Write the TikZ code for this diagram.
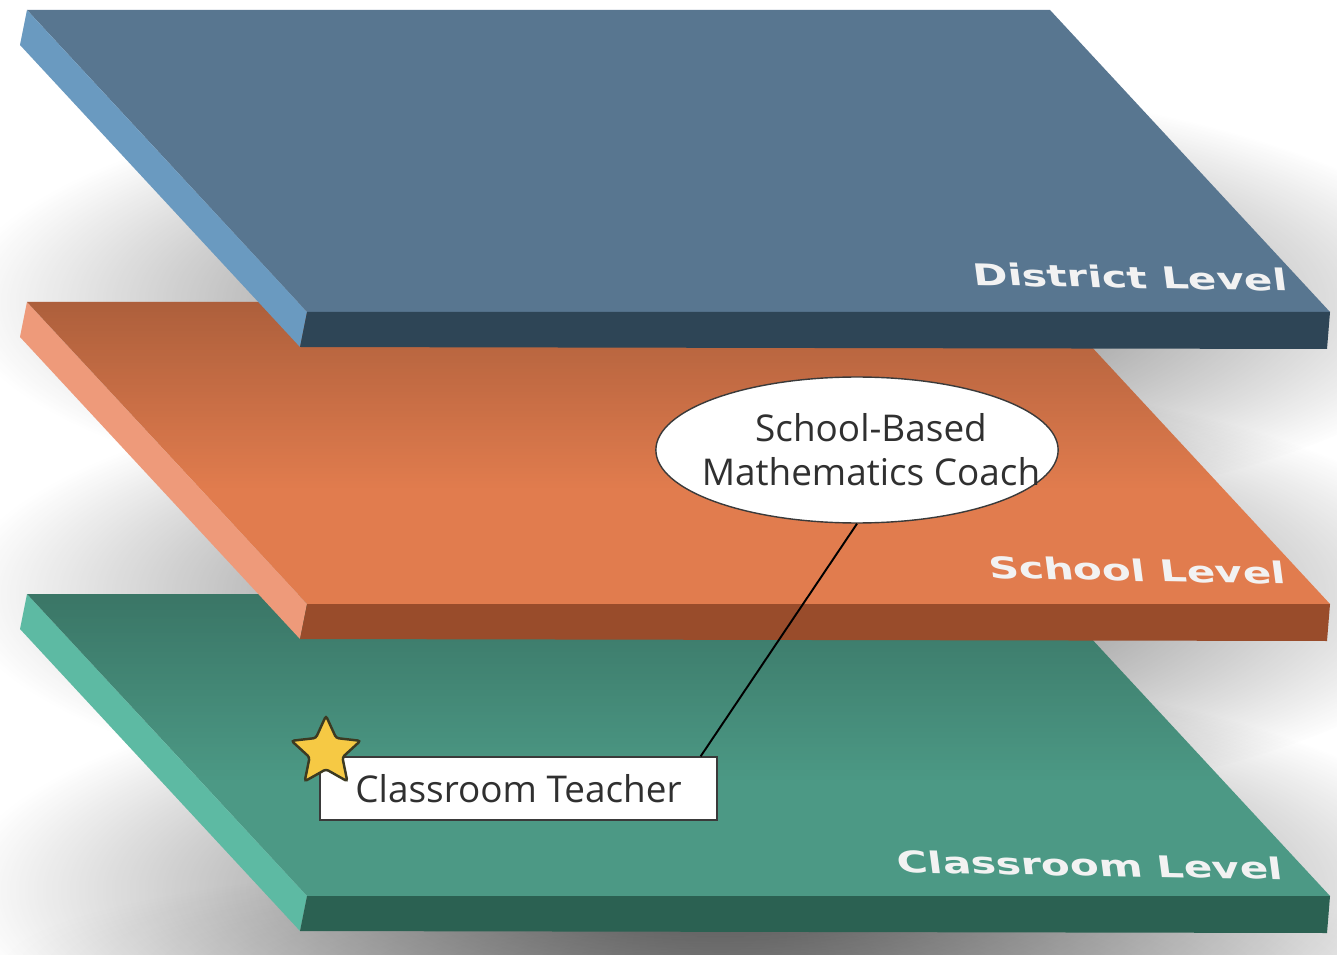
\documentclass[tikz,border=0pt]{standalone}
\usepackage{fontspec}
\setmainfont{Open Sans}
\newfontfamily\levelfont{DejaVu Sans}
\usetikzlibrary{shapes.geometric,fadings}

\definecolor{districttop}{HTML}{587690}
\definecolor{districtside}{HTML}{6A9AC0}
\definecolor{districtfront}{HTML}{2E4556}
\definecolor{schooltop}{HTML}{E17C4E}
\definecolor{schoolside}{HTML}{EE9A7A}
\definecolor{schoolfront}{HTML}{994C2B}
\definecolor{classtop}{HTML}{4C9985}
\definecolor{classside}{HTML}{5DBAA3}
\definecolor{classfront}{HTML}{2B6152}
\definecolor{levelwhite}{HTML}{F2F2F2}
\definecolor{roleline}{HTML}{3A3A3A}
\definecolor{roletext}{HTML}{303030}
\definecolor{stargold}{HTML}{F6C944}
\definecolor{starline}{HTML}{3C3A22}

\tikzfading[name=shadowfade, inner color=transparent!0, outer color=transparent!100]
\tikzfading[name=fadedown, top color=transparent!0, bottom color=transparent!100]

\tikzset{
  floorshadow/.style={fill=black, fill opacity=0.65, path fading=shadowfade},
  slabshadow/.style={fill=black, fill opacity=0.26, path fading=fadedown},
  levellabel/.style={text=levelwhite, inner sep=0pt, xscale=1.4, xslant=-0.12, rotate=-1.5,
    font=\levelfont\bfseries\fontsize{17}{20}\selectfont},
  rolebox/.style={draw=roleline, fill=white, line width=0.8pt, inner sep=0pt,
    text=roletext, font=\fontsize{21}{25}\selectfont},
  link/.style={line width=1.1pt, black},
}

\begin{document}
\begin{tikzpicture}[x=0.02cm,y=-0.02cm]
\useasboundingbox (0,0) rectangle (1337,955);
\fill[white] (0,0) rectangle (1337,955);

% soft shadows on the floor
\fill[floorshadow, fill opacity=0.2] (720,965) ellipse (720 and 110);
\fill[floorshadow] (720,890) ellipse (760 and 230);
\fill[floorshadow] (720,594) ellipse (760 and 230);
\fill[floorshadow] (720,302) ellipse (760 and 230);

% classroom level
\fill[classtop] (27,594) -- (1050,594) -- (1330,896) -- (307,896) -- cycle;
\fill[classside] (27,594) -- (307,896) -- (300,931) -- (20,629) -- cycle;
\fill[classfront] (307,896) -- (1330,896) -- (1327,933) -- (300,931) -- cycle;
\begin{scope}
\clip (27,594) -- (1050,594) -- (1330,896) -- (307,896) -- cycle;
\fill[slabshadow] (0,570) rectangle (1337,780);
\end{scope}

% school level
\fill[schooltop] (27,302) -- (1050,302) -- (1330,604) -- (307,604) -- cycle;
\fill[schoolside] (27,302) -- (307,604) -- (300,639) -- (20,337) -- cycle;
\fill[schoolfront] (307,604) -- (1330,604) -- (1327,641) -- (300,639) -- cycle;
\begin{scope}
\clip (27,302) -- (1050,302) -- (1330,604) -- (307,604) -- cycle;
\fill[slabshadow] (0,278) rectangle (1337,488);
\end{scope}

% district level
\fill[districttop] (27,10) -- (1050,10) -- (1330,312) -- (307,312) -- cycle;
\fill[districtside] (27,10) -- (307,312) -- (300,347) -- (20,45) -- cycle;
\fill[districtfront] (307,312) -- (1330,312) -- (1327,349) -- (300,347) -- cycle;

\node[levellabel] (districtlbl) at (1130,277) {District Level};
\node[levellabel] (schoollbl) at (1137,570) {School Level};
\node[levellabel] (classlbl) at (1090,865) {Classroom Level};

\node[ellipse, draw=roleline, fill=white, line width=0.8pt, minimum height=2.92cm,
  inner xsep=-0.82cm, inner ysep=0pt, align=center, text=roletext,
  font=\fontsize{21}{25}\selectfont] (coach) at (857,450)
  {\hspace*{0.56cm}School-Based\\\hspace*{0.56cm}Mathematics Coach};
\node[rolebox, minimum width=7.94cm, minimum height=1.26cm] (teacher) at (518.5,788.5) {Classroom Teacher};
\node[star, star points=5, star point ratio=2.1, minimum size=1.45cm, inner sep=0pt, rounded corners=1.5pt,
  fill=stargold, draw=starline, line width=1.4pt] (star) at (326,752) {};

\draw[link] (coach.south) -- ([xshift=-0.34cm]teacher.north east);
\end{tikzpicture}
\end{document}
